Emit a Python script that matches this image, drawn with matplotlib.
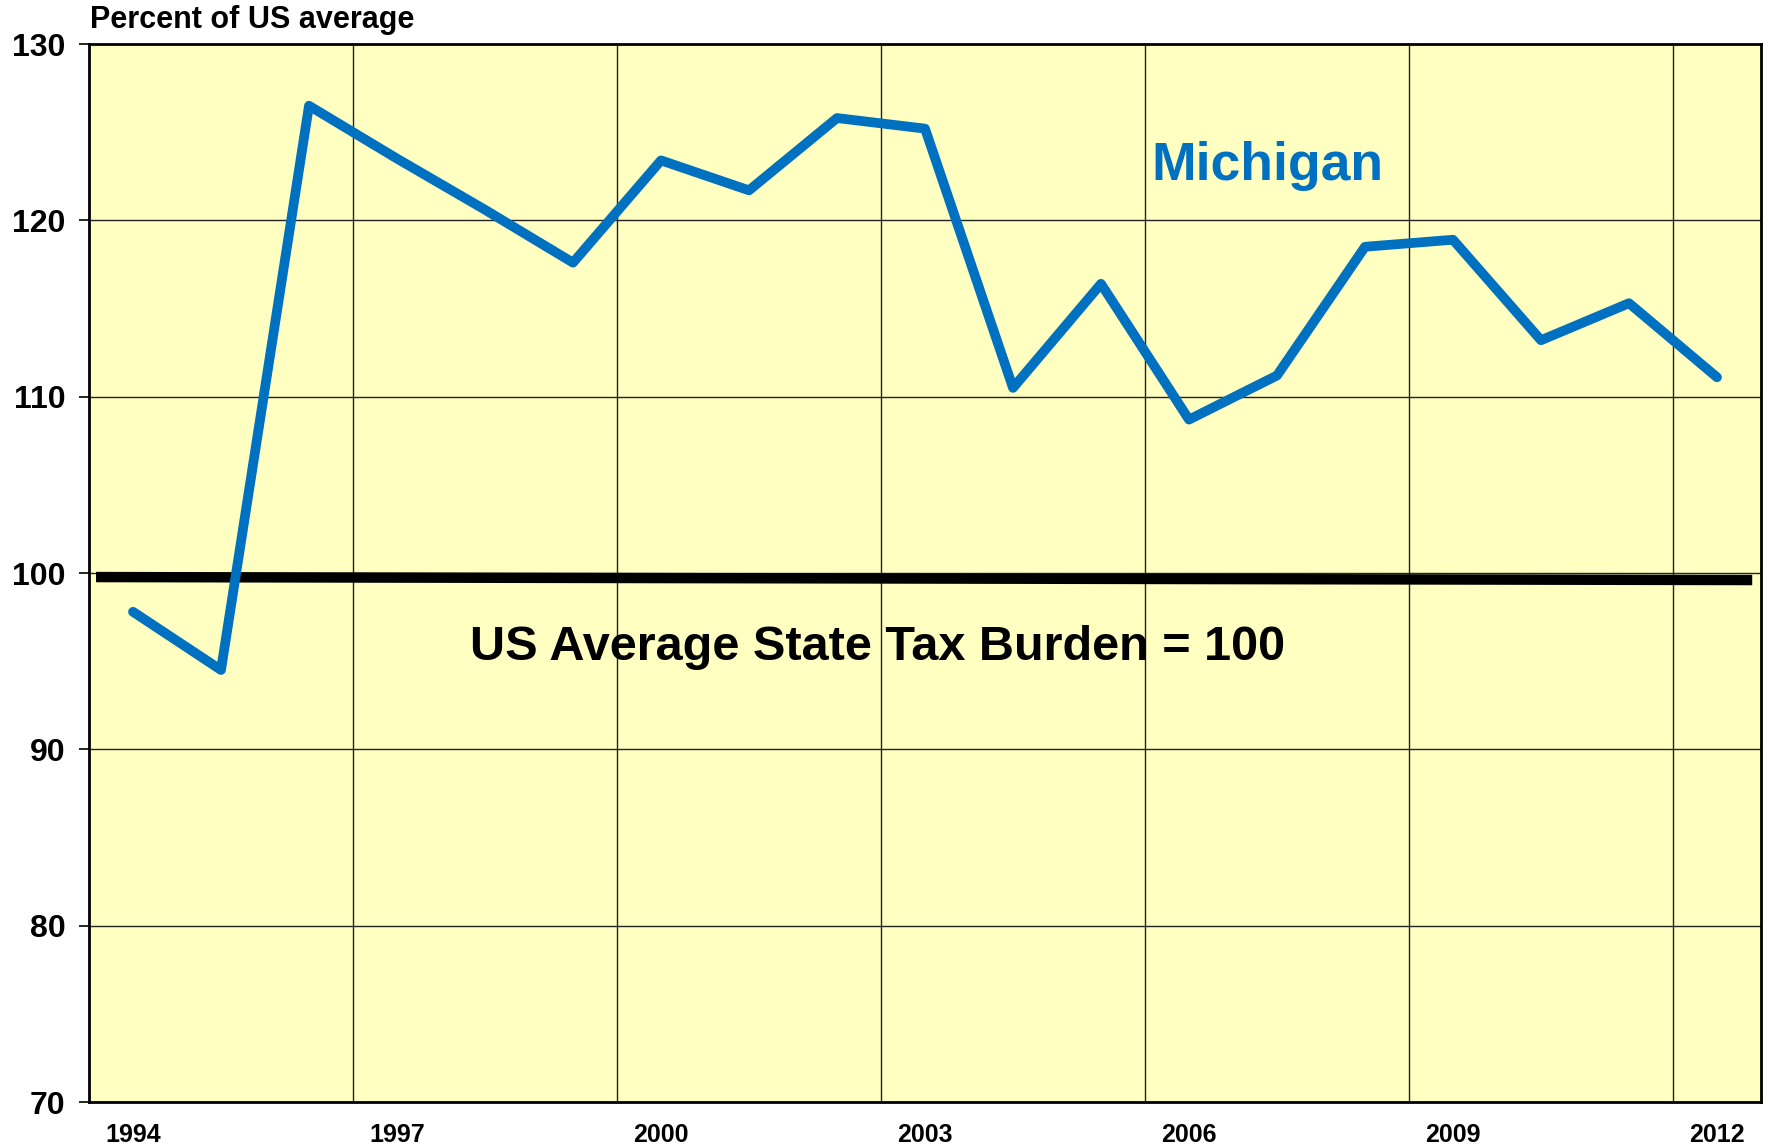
import matplotlib
matplotlib.use("Agg")
import matplotlib.pyplot as plt

years = list(range(1994, 2013))
michigan = [97.8, 94.5, 126.5, 123.5, 120.6, 117.6, 123.4, 121.7, 125.8, 125.2,
            110.5, 116.4, 108.7, 111.2, 118.5, 118.9, 113.2, 115.3, 111.1]
us_line_x = [1993.58, 2012.4]
us_line_y = [99.77, 99.6]
xtick_years = [1994, 1997, 2000, 2003, 2006, 2009, 2012]
yticks = [70, 80, 90, 100, 110, 120, 130]

plt.rcParams['font.family'] = ['Liberation Sans', 'DejaVu Sans']

fig = plt.figure(figsize=(17.69, 11.47), dpi=100)
ax = fig.add_axes([89/1769, 1-1102/1147, 1672/1769, 1058/1147])
ax.set_facecolor('#FFFFC1')

ax.set_xlim(1993.5, 2012.5)
ax.set_ylim(70, 130)

# gridlines
for y in yticks[1:-1]:
    ax.axhline(y, color='#222222', lw=1.0, zorder=1)
for gx in [1996.5, 1999.5, 2002.5, 2005.5, 2008.5, 2011.5]:
    ax.axvline(gx, color='#222222', lw=1.0, zorder=1)

ax.plot(us_line_x, us_line_y, color='black', lw=7.5, solid_capstyle='butt', zorder=2)
ax.plot(years, michigan, color='#0070C0', lw=7.0, solid_joinstyle='round',
        solid_capstyle='round', zorder=3)

ax.set_yticks(yticks)
ax.set_yticklabels([str(v) for v in yticks], fontsize=23, fontweight='bold')
ax.tick_params(axis='y', length=7, width=1.2, pad=10, direction='out')
ax.set_xticks(xtick_years)
ax.set_xticklabels([str(v) for v in xtick_years], fontsize=18, fontweight='bold')
ax.tick_params(axis='x', length=0, pad=15)

for s in ax.spines.values():
    s.set_linewidth(2.0)
    s.set_color('black')

ax.text(2005.57, 122.3, 'Michigan', color='#0070C0', fontsize=38.5,
        fontweight='bold', ha='left', va='baseline', zorder=4)
ax.text(1997.83, 95.06, 'US Average State Tax Burden = 100', color='black',
        fontsize=35, fontweight='bold', ha='left', va='baseline', zorder=4)

fig.text(90/1769, 1-28/1147, 'Percent of US average', fontsize=22,
         fontweight='bold', ha='left', va='baseline')

fig.savefig('out.png', dpi=100, facecolor='white')
